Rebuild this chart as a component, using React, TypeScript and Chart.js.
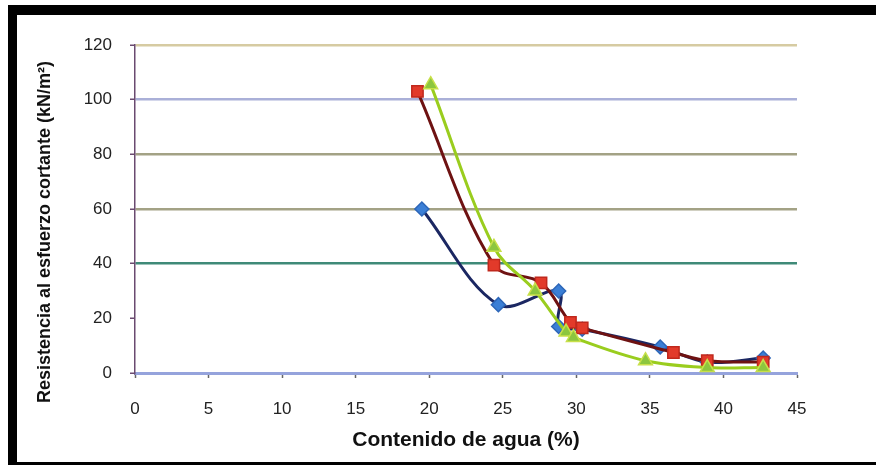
import React, { useEffect, useRef } from "react";
import { Chart, registerables } from "chart.js";

Chart.register(...registerables);

const blueX = [19.5, 24.7, 28.8, 28.8, 30.4, 35.7, 38.9, 42.7];
const blueY = [60, 25, 30, 17, 16, 9.5, 4, 5.5];
const redX = [19.2, 24.4, 27.6, 29.6, 30.4, 36.6, 38.9, 42.7];
const redY = [103, 39.5, 33, 18.5, 16.5, 7.5, 4.5, 4];
const greenX = [20.1, 24.4, 27.2, 29.3, 29.8, 34.7, 38.9, 42.7];
const greenY = [105.5, 46, 30, 15, 13, 4.5, 2, 2];

const xTicks = [0, 5, 10, 15, 20, 25, 30, 35, 40, 45];
const yTicks = [0, 20, 40, 60, 80, 100, 120];

const yTitle = "Resistencia al esfuerzo cortante (kN/m²)";
const xTitle = "Contenido de agua (%)";

const gridColors: Record<number, string> = {
  120: "#d6cba2",
  100: "#aab0d8",
  80: "#a3a285",
  60: "#a3a285",
  40: "#3f8a78",
  20: "rgba(0,0,0,0)",
  0: "rgba(0,0,0,0)",
};

const toPts = (xs: number[], ys: number[]) => xs.map((x, i) => ({ x, y: ys[i] }));

const yTitlePlugin = {
  id: "yTitlePlugin",
  afterDraw(chart: any) {
    const ctx = chart.ctx;
    const area = chart.chartArea;
    ctx.save();
    ctx.translate(45, area.bottom - 141);
    ctx.rotate(-Math.PI / 2);
    ctx.font = "bold 18px 'Liberation Sans'";
    ctx.fillStyle = "#111";
    ctx.textAlign = "center";
    ctx.textBaseline = "middle";
    ctx.fillText(yTitle, 0, 0);
    ctx.restore();
  },
};

export default function App() {
  const ref = useRef<HTMLCanvasElement>(null);
  useEffect(() => {
    document.body.style.margin = "0";
    const chart = new Chart(ref.current!, {
      type: "scatter",
      data: {
        datasets: [
          {
            data: toPts(greenX, greenY),
            showLine: true,
            tension: 0.35,
            borderColor: "#9acd1e",
            borderWidth: 3,
            pointStyle: "triangle",
            pointRadius: 8,
            pointBackgroundColor: "#8cc63f",
            pointBorderColor: "#c8e04a",
            pointBorderWidth: 1.5,
          },
          {
            data: toPts(redX, redY),
            showLine: true,
            tension: 0.35,
            borderColor: "#6e1212",
            borderWidth: 3,
            pointStyle: "rect",
            pointRadius: 8,
            pointBackgroundColor: "#e23a2a",
            pointBorderColor: "#c0281c",
            pointBorderWidth: 1.5,
          },
          {
            data: toPts(blueX, blueY),
            showLine: true,
            tension: 0.35,
            borderColor: "#1b2762",
            borderWidth: 3,
            pointStyle: "rectRot",
            pointRadius: 7,
            pointBackgroundColor: "#3b7fd6",
            pointBorderColor: "#2d66b8",
            pointBorderWidth: 1.5,
          },
        ],
      },
      plugins: [yTitlePlugin],
      options: {
        animation: false,
        responsive: false,
        maintainAspectRatio: false,
        layout: { padding: { top: 45, right: 79, left: 0, bottom: 0 } },
        plugins: { legend: { display: false }, tooltip: { enabled: false } },
        scales: {
          x: {
            type: "linear",
            min: 0,
            max: 45,
            afterBuildTicks: (s: any) => {
              s.ticks = xTicks.map((v) => ({ value: v }));
            },
            afterFit: (s: any) => {
              s.height = 92;
            },
            ticks: {
              color: "#222",
              padding: 21,
              font: { family: "Liberation Sans", size: 17 },
            },
            grid: {
              drawOnChartArea: false,
              drawTicks: true,
              tickLength: 5,
              tickColor: "#666",
              tickWidth: 1.5,
            },
            border: { display: true, color: "#95a3dc", width: 3 },
            title: {
              display: true,
              text: xTitle,
              color: "#111",
              font: { family: "Liberation Sans", size: 21, weight: "bold" },
              padding: { top: 0, bottom: 12 },
            },
          },
          y: {
            type: "linear",
            min: 0,
            max: 120,
            afterBuildTicks: (s: any) => {
              s.ticks = yTicks.map((v) => ({ value: v }));
            },
            afterFit: (s: any) => {
              s.width = 135;
            },
            ticks: {
              color: "#222",
              padding: 18,
              font: { family: "Liberation Sans", size: 17 },
            },
            grid: {
              color: (ctx: any) => gridColors[ctx.tick?.value] ?? "rgba(0,0,0,0)",
              lineWidth: 2.5,
              drawTicks: true,
              tickLength: 5,
              tickColor: "#6a4a70",
              tickWidth: 1.5,
            },
            border: { display: true, color: "#6a4a70", width: 1.5 },
            title: { display: false },
          },
        },
      },
    });
    return () => chart.destroy();
  }, []);
  return (
    <div style={{ position: "fixed", left: 0, top: 0, width: 876, height: 465, background: "#fff", overflow: "hidden" }}>
      <canvas ref={ref} width={876} height={465} style={{ position: "absolute", left: 0, top: 0, width: 876, height: 465 }} />
      <div
        style={{
          position: "absolute",
          left: 8,
          top: 5,
          width: 900,
          height: 460,
          boxSizing: "border-box",
          borderStyle: "solid",
          borderColor: "#000",
          borderWidth: "10px 0 3px 9px",
          pointerEvents: "none",
        }}
      />
    </div>
  );
}
